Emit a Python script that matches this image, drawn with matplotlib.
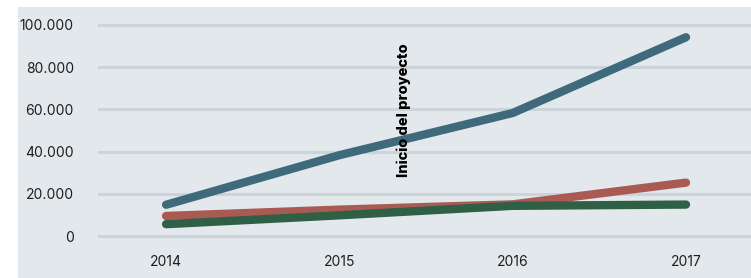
import matplotlib.pyplot as plt
from matplotlib.patches import Rectangle

years = [2014, 2015, 2016, 2017]
serie_azul = [14800, 38300, 58300, 94200]
serie_roja = [9500, 12500, 15000, 25300]
serie_verde = [5600, 9800, 14300, 14900]
y_ticks = [0, 20000, 40000, 60000, 80000, 100000]
y_labels = ["0", "20.000", "40.000", "60.000", "80.000", "100.000"]
anotacion = "Inicio del proyecto"

W, H = 751, 278
fig = plt.figure(figsize=(W / 100, H / 100), dpi=100)
fig.patch.set_facecolor("white")
# light panel behind the chart
fig.patches.append(Rectangle((18 / W, 0), 1 - 18 / W, 1 - 7 / H,
                             transform=fig.transFigure, facecolor="#e3e8ec",
                             edgecolor="none", zorder=-5))

ax = fig.add_axes([99 / W, (H - 236) / H, (W - 99) / W, (236 - 25) / H])
ax.set_facecolor("none")
ax.set_xlim(2013.613, 2017.375)
ax.set_ylim(0, 100000)

for t in y_ticks:
    ax.axhline(t, color="#cbd4db", lw=2.2, zorder=1, clip_on=False)

kw = dict(lw=6, solid_capstyle="round", clip_on=False, zorder=3)
ax.plot(years, serie_azul, color="#3e6a7b", **kw)
ax.plot(years, serie_roja, color="#a95b53", **kw)
ax.plot(years, serie_verde, color="#2f5f45", **kw)

ax.text(2015.37, 59500, anotacion, rotation=90, ha="center", va="center",
        fontsize=10.5, fontweight="heavy", family="Inter", zorder=4)

ax.set_xticks(years)
ax.set_xticklabels([str(y) for y in years])
ax.set_yticks(y_ticks)
ax.set_yticklabels(y_labels)
ax.tick_params(length=0, labelsize=10, colors="#1e1e1e")
ax.tick_params(axis="y", pad=18)
ax.tick_params(axis="x", pad=14)
for lab in ax.get_xticklabels() + ax.get_yticklabels():
    lab.set_family("Inter")
for s in ax.spines.values():
    s.set_visible(False)

fig.savefig("out.png", dpi=100)
